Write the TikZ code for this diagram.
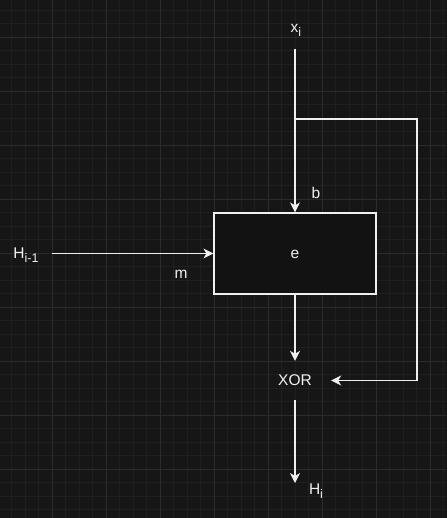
\documentclass[tikz,border=0pt]{standalone}
\usepackage{fontspec}
\setmainfont{Liberation Sans}
\usepackage{xcolor}
\usepackage{tikz}
\usetikzlibrary{arrows.meta,positioning}
\definecolor{canvas}{RGB}{22,22,22}
\definecolor{boxfill}{RGB}{18,18,18}
\definecolor{gridminor}{RGB}{31,31,31}
\definecolor{gridmajor}{RGB}{43,43,43}
\definecolor{ink}{RGB}{240,240,240}
\newcommand{\lowsub}[1]{\raisebox{-4pt}{\fontsize{12.5}{14}\selectfont #1}}

\begin{document}
\begin{tikzpicture}[
    x=1pt, y=-1pt,
    font=\fontsize{15.5}{18}\selectfont,
    every node/.style={text=ink, inner sep=0pt, text height=14pt, text depth=3.3pt},
    box/.style={rectangle, draw=ink, fill=boxfill, line width=1.2pt, minimum width=162pt, minimum height=81pt, align=center},
    lbl/.style={rectangle},
    arrow/.style={draw=ink, line width=1.2pt, -{Stealth[length=10pt,width=10pt,inset=3pt]}},
    minor/.style={draw=gridminor, line width=0.8pt},
    major/.style={draw=gridmajor, line width=0.8pt}
]

% Background
\useasboundingbox[fill=canvas] (0,0) rectangle (447,518);
\clip (0,0) rectangle (447,518);
\foreach \i in {0,...,33} \draw[minor] ({-1.7+13.5*\i},0) -- ++(0,518);
\foreach \j in {0,...,40} \draw[minor] (0,{-16.7+13.5*\j}) -- ++(447,0);
\foreach \i in {0,...,8} \draw[major] ({-1.7+54*\i},0) -- ++(0,518);
\foreach \j in {0,...,10} \draw[major] (0,{-16.7+54*\j}) -- ++(447,0);

% Nodes
\node[box] (e) at (295,253.5) {e};
\node[lbl, minimum width=72pt, minimum height=39pt] (xor) at (295,380.5) {XOR};
\node[lbl, minimum width=52pt] (hprev) at (26,253.5) {H\lowsub{i-1}};
\node[lbl, minimum height=44pt] (xi) at (296,27) {x\lowsub{i}};
\coordinate (split) at (295,119);
\coordinate (turn) at (417,380.5);
\coordinate (out) at (295,483);

% Arrows
\draw[arrow] (xi.south -| e.north) -- (e.north);
\draw[arrow] (hprev) -- (e);
\draw[arrow] (e) -- (xor);
\draw[arrow] (split) -| (turn) -- (xor.east);
\draw[arrow] (xor) -- (out);

% Labels
\node[lbl] (b) at (316,193.6) {b};
\node[lbl] (m) at (181,273.6) {m};
\node[lbl] (hi) at (316,489.3) {H\lowsub{i}};

\end{tikzpicture}
\end{document}
